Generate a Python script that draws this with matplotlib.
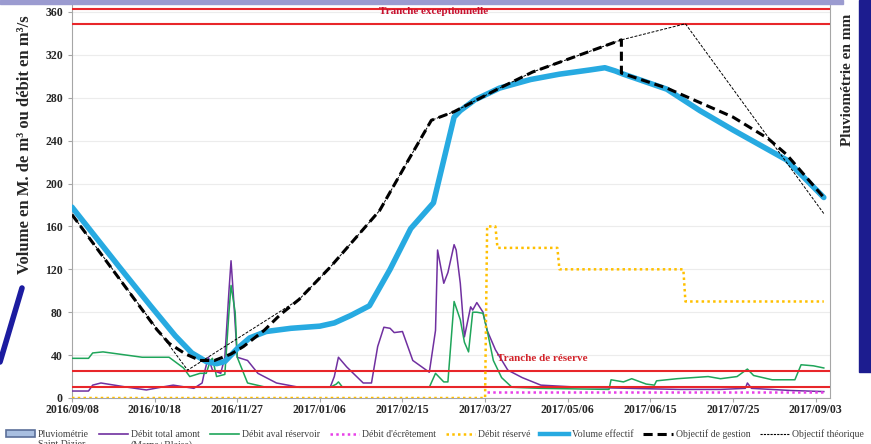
import pandas as pd
import matplotlib
matplotlib.use("Agg")
import matplotlib.pyplot as plt
from matplotlib.patches import Rectangle, Patch
from matplotlib.lines import Line2D

# --- Data (days counted from 2016/09/08) ---
START = pd.Timestamp("2016-09-08")

vol_days = [0, 23, 38, 50, 58, 65, 70, 74, 80, 86, 94, 106, 120, 127, 135, 144, 154, 164,
            175, 180, 185, 188, 195, 207, 222, 236, 251, 258, 263, 267, 288, 304, 320, 346, 364]
vol_vals = [178, 122, 86, 58, 42, 34, 32, 34, 46, 56, 62, 65, 67, 70, 77, 86, 120, 158,
            182, 222, 262, 268, 278, 289, 297, 302, 306, 308, 305, 302, 288, 268, 250, 222, 187]

gest_days = [0, 41, 47, 55, 62, 69, 77, 83, 93, 101, 110, 125, 149, 162, 174, 185, 207,
             223, 256, 266, 266, 288, 320, 337, 346, 364]
gest_vals = [171, 64, 51, 41, 35, 35, 41, 48, 63, 78, 92, 122, 175, 219, 259, 267, 289,
             304, 327, 334, 303, 289, 262, 242, 227, 187]

theo_days = [0, 56, 110, 125, 149, 162, 174, 185, 207, 223, 256, 266, 297, 364]
theo_vals = [171, 26, 92, 122, 175, 219, 259, 267, 289, 304, 327, 334, 349, 172]

amont_days = [0, 8, 10, 14, 27, 36, 43, 49, 59, 63, 64, 66, 68, 72, 74, 76, 77, 78, 80, 85,
              90, 99, 110, 125, 127, 129, 133, 141, 145, 148, 151, 154, 156, 160, 165, 173,
              176, 177, 180, 182, 185, 186, 188, 190, 193, 194, 196, 199, 201, 205, 211, 218,
              227, 246, 270, 294, 314, 326, 327, 329, 348, 364]
amont_vals = [6.5, 6.5, 12, 14, 10, 7.5, 10, 12, 9, 14, 23, 38, 26, 23, 38, 100, 128, 100, 38, 35,
              23, 14, 10, 10, 20, 38, 29, 14, 14, 48, 66, 65, 61, 62, 35, 24,
              63, 138, 107, 117, 143, 138, 107, 57, 85, 82, 89, 80, 63, 45, 26, 19,
              12, 10, 9, 8, 8, 9, 14, 9, 7, 6]

aval_days = [0, 8, 10, 15, 34, 47, 54, 57, 62, 65, 67, 68, 70, 74, 76, 77, 79, 80, 85, 94,
             125, 128, 129, 131, 173, 176, 180, 182, 185, 188, 190, 192, 194, 196, 199, 201,
             204, 208, 213, 227, 260, 261, 267, 271, 278, 282, 283, 293, 308, 314, 322, 327,
             330, 339, 350, 353, 359, 364]
aval_vals = [37, 37, 42, 43, 38, 38, 28, 20, 23, 23, 35, 37, 20, 22, 80, 105, 80, 38, 14, 10,
             10, 13, 15, 10, 10, 23, 15, 15, 90, 73, 52, 43, 80, 80, 79, 63,
             35, 19, 10, 9, 8, 17, 15, 18, 13, 12, 16, 18, 20, 18, 20, 27,
             21, 17, 17, 31, 30, 28]

ecret_days = [201, 364]
ecret_vals = [6, 6]

reserve_days = [0, 200, 201, 205, 206, 235, 236, 296, 297, 364]
reserve_vals = [0, 0, 160, 160, 140, 140, 120, 120, 90, 90]

tranche_reserve = [10, 25]
tranche_except = [349, 363]

tick_labels = ["2016/09/08", "2016/10/18", "2016/11/27", "2017/01/06", "2017/02/15",
               "2017/03/27", "2017/05/06", "2017/06/15", "2017/07/25", "2017/09/03"]

legend_labels = ["Pluviométrie", "Débit total amont", "Débit aval réservoir",
                 "Débit d'écrêtement", "Débit réservé", "Volume effectif",
                 "Objectif de gestion", "Objectif théorique"]
# second line of the two-line legend labels
legend_second = {0: "Saint Dizier", 1: "(Marne+Blaise)"}


def to_dates(days):
    return START + pd.to_timedelta(days, unit="D")


# --- Figure ---
SERIF = "Liberation Serif"
fig = plt.figure(figsize=(8.71, 4.44), dpi=100)
ax = fig.add_axes([72 / 871, 1 - 398 / 444, (830 - 72) / 871, (398 - 5) / 444])

# slide decorations around the chart
fig.patches.append(Rectangle((0, 1 - 4 / 444), 843 / 871, 4 / 444, transform=fig.transFigure,
                             color="#9b9bd0", zorder=0))
fig.patches.append(Rectangle((859 / 871, 1 - 372 / 444), 12 / 871, 372 / 444,
                             transform=fig.transFigure, color="#1c1c8f", zorder=0))
fig.lines.append(Line2D([0, 22 / 871], [1 - 362 / 444, 1 - 288 / 444], transform=fig.transFigure,
                        color="#1c1ca0", lw=4, solid_capstyle="round"))

for v in tranche_reserve + tranche_except:
    ax.axhline(v, color="#e8262a", lw=1.5, zorder=4)

ax.plot(to_dates(amont_days), amont_vals, color="#7030a0", lw=1.1, zorder=3)
ax.plot(to_dates(aval_days), aval_vals, color="#1fa55a", lw=1.1, zorder=3)
ax.plot(to_dates(ecret_days), ecret_vals, color="#e840e8", lw=1.8, ls=(0, (1, 1.3)), zorder=5)
ax.plot(to_dates(reserve_days), reserve_vals, color="#ffc000", lw=1.8, ls=(0, (1, 1.3)), zorder=5)
ax.plot(to_dates(vol_days), vol_vals, color="#27aae1", lw=4.0, solid_capstyle="round", zorder=6)
ax.plot(to_dates(gest_days), gest_vals, color="black", lw=2.2, ls=(0, (3, 1.6)), zorder=7)
ax.plot(to_dates(theo_days), theo_vals, color="black", lw=0.7, ls=(0, (3, 1.5)), zorder=8)

ax.text(to_dates([175])[0], 360.5, "Tranche exceptionnelle", color="#c8102e", fontsize=8,
        family=SERIF, fontweight="bold", ha="center", va="center", zorder=9)
ax.text(to_dates([206])[0], 37, "Tranche de réserve", color="#d2232a", fontsize=8,
        family=SERIF, fontweight="bold", ha="left", va="center", zorder=9)

# axes styling
ax.set_ylim(0, 366.5)
ax.set_xlim(START, START + pd.Timedelta(days=367))
ax.set_yticks(range(0, 361, 40))
ax.set_xticks(to_dates([40 * k for k in range(len(tick_labels))]))
ax.set_xticklabels(tick_labels)
ax.grid(axis="y", color="#ececec", lw=0.8, zorder=0)
ax.set_axisbelow(True)
ax.spines["top"].set_visible(False)
for s in ("left", "bottom", "right"):
    ax.spines[s].set_color("#a6a6a6")
ax.tick_params(axis="both", colors="#a6a6a6", length=3, width=0.8, labelcolor="#262626")
ax.tick_params(axis="x", pad=1.5)
for lab in ax.get_xticklabels() + ax.get_yticklabels():
    lab.set_family(SERIF)
    lab.set_fontweight("bold")
    lab.set_fontsize(8.5)

fig.text(25 / 871, 1 - 145 / 444, "Volume en M. de m³ ou débit en m³/s", rotation=90,
         ha="center", va="center", family=SERIF, fontweight="bold", fontsize=12, color="#262626")
fig.text(847 / 871, 1 - 80 / 444, "Pluviométrie en mm", rotation=90, ha="center", va="center",
         family=SERIF, fontweight="bold", fontsize=11, color="#262626")

# legend
handles = [
    Patch(facecolor="#a9bfe0", edgecolor="#5b6f99", lw=1.2),
    Line2D([], [], color="#7030a0", lw=1.2),
    Line2D([], [], color="#1fa55a", lw=1.2),
    Line2D([], [], color="#e840e8", lw=1.8, ls=(0, (1, 1.3))),
    Line2D([], [], color="#ffc000", lw=1.8, ls=(0, (1, 1.3))),
    Line2D([], [], color="#27aae1", lw=3.2),
    Line2D([], [], color="black", lw=2.2, ls=(0, (3, 1.6))),
    Line2D([], [], color="black", lw=0.8, ls=(0, (2, 1))),
]
leg_font = {"family": SERIF, "size": 7}
leg = fig.legend(handles, legend_labels, loc="upper left",
                 bbox_to_anchor=(6 / 871, 1 - 434 / 444, 858 / 871, 0.01), mode="expand",
                 ncol=8, frameon=False, prop=leg_font,
                 handlelength=3.0, handletextpad=0.3, columnspacing=0.6, borderaxespad=0,
                 borderpad=0)
for t in leg.get_texts():
    t.set_color("#404040")

# put the second line of the two-line labels under their first line
fig.canvas.draw()
for idx, second in legend_second.items():
    bb = leg.get_texts()[idx].get_window_extent()
    fig.text(bb.x0 / fig.bbox.width, (bb.y0 - 1) / fig.bbox.height, second, ha="left", va="top",
             color="#404040", **leg_font)

fig.savefig("out.png", dpi=100)
